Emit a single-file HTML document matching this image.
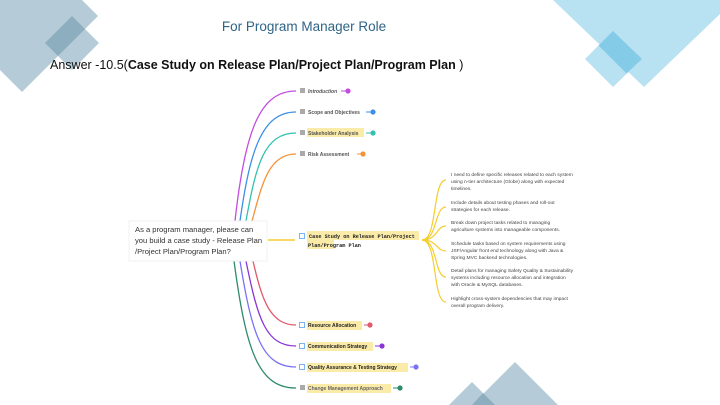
<!DOCTYPE html>
<html><head><meta charset="utf-8"><style>
body{margin:0;width:720px;height:405px;overflow:hidden;background:#fff;font-family:"Liberation Sans",sans-serif}
svg{display:block}
</style></head><body>
<svg width="720" height="405" viewBox="0 0 720 405" xmlns="http://www.w3.org/2000/svg">
<polygon points="-54,16 22,-60 98,16 22,92" fill="#b5cbd7"/>
<polygon points="45,43 72,16 99,43 72,70" fill="#b5cbd7"/>
<polygon points="45,43 72,16 85,29 58,56" fill="#8daebf"/>
<polygon points="553,0 720,0 720,14 644,87" fill="#b8e2f2"/>
<polygon points="585,59 613,31 642,59 613,87" fill="#b8e2f2"/>
<polygon points="598.5,45.5 613,31 642,59 626.5,73.5" fill="#84cbe7"/>
<polygon points="472,405 515,362 558,405" fill="#b5cbd7"/>
<polygon points="449,405 472,382 495,405" fill="#b5cbd7"/>
<polygon points="472,405 483,393 495,405" fill="#8daebf"/>
<text x="304" y="31" text-anchor="middle" font-size="13.5" fill="#2e6487">For Program Manager Role</text>
<text x="50" y="69" font-size="12.5" fill="#111">Answer -10.5(<tspan font-weight="bold">Case Study on Release Plan/Project Plan/Program Plan </tspan>)</text>
<g fill="none" stroke-width="1.3">
<path d="M235,221 C245,130 260,91 296,91" stroke="#c24ee0"/>
<path d="M240,221 C250,150 262,112 296,112" stroke="#3d8fe6"/>
<path d="M246,221 C256,165 264,133 296,133" stroke="#33c1b0"/>
<path d="M252,221 C262,185 268,154 296,154" stroke="#f4923b"/>
<path d="M253,261 C262,300 270,325 296,325" stroke="#e25a6a"/>
<path d="M246,261 C258,320 266,346 296,346" stroke="#8a35d8"/>
<path d="M240,261 C252,335 262,367 296,367" stroke="#7a72f4"/>
<path d="M234,261 C246,350 258,388 296,388" stroke="#2e8a6e"/>
<path d="M268,240 L295,240" stroke="#f5cd2e" stroke-width="1.6"/>
<g stroke="#f5cd2e" stroke-width="1.2">
<path d="M422,240 C438,240 432,180 446,180"/>
<path d="M422,240 C438,240 434,207 446,207"/>
<path d="M422,240 C438,240 436,226 446,226"/>
<path d="M422,240 C438,240 436,251 446,251"/>
<path d="M422,240 C438,240 434,277 446,277"/>
<path d="M422,240 C438,240 432,302 446,302"/>
</g>
</g>
<rect x="129" y="221" width="138" height="40" fill="#fff" stroke="#f0f0f0"/>
<g font-size="7.6" fill="#333">
<text x="135" y="232">As a program manager, please can</text>
<text x="135" y="243">you build a case study - Release Plan</text>
<text x="135" y="254">/Project Plan/Program Plan?</text>
</g>
<g font-size="5" font-weight="bold" fill="#555">
<rect x="300" y="88" width="5" height="5" fill="#aaa"/><text x="308" y="93" font-style="italic">Introduction</text>
<rect x="300" y="109" width="5" height="5" fill="#aaa"/><text x="308" y="114">Scope and Objectives</text>
<rect x="307" y="128" width="57" height="9" fill="#fbeba8"/>
<rect x="300" y="130" width="5" height="5" fill="#aaa"/><text x="308" y="135">Stakeholder Analysis</text>
<rect x="300" y="151" width="5" height="5" fill="#aaa"/><text x="308" y="156">Risk Assessment</text>
</g>
<g stroke-width="1">
<line x1="341" y1="91" x2="347" y2="91" stroke="#c24ee0"/><circle cx="348" cy="91" r="2.6" fill="#c24ee0"/>
<line x1="366" y1="112" x2="372" y2="112" stroke="#3d8fe6"/><circle cx="373" cy="112" r="2.6" fill="#3d8fe6"/>
<line x1="366" y1="133" x2="372" y2="133" stroke="#33c1b0"/><circle cx="373" cy="133" r="2.6" fill="#33c1b0"/>
<line x1="357" y1="154" x2="362" y2="154" stroke="#f4923b"/><circle cx="363" cy="154" r="2.6" fill="#f4923b"/>
<line x1="364" y1="325" x2="369" y2="325" stroke="#e25a6a"/><circle cx="370" cy="325" r="2.6" fill="#e25a6a"/>
<line x1="375" y1="346" x2="380" y2="346" stroke="#8a35d8"/><circle cx="382" cy="346" r="2.6" fill="#8a35d8"/>
<line x1="410" y1="367" x2="415" y2="367" stroke="#7a72f4"/><circle cx="416" cy="367" r="2.6" fill="#7a72f4"/>
<line x1="393" y1="388" x2="398" y2="388" stroke="#2e8a6e"/><circle cx="400" cy="388" r="2.6" fill="#2e8a6e"/>
</g>
<rect x="307" y="231" width="112" height="9" fill="#fbeba8"/>
<rect x="307" y="240" width="27" height="9" fill="#fbeba8"/>
<rect x="299.5" y="233.5" width="5" height="5" fill="#fff" stroke="#5aa2f0" stroke-width="0.8"/>
<g font-family="Liberation Mono,monospace" font-size="5.2" font-weight="bold" fill="#222">
<text x="309" y="238">Case Study on Release Plan/Project</text>
<text x="308" y="247">Plan/Program Plan</text>
</g>
<g font-size="5" font-weight="bold" fill="#222">
<rect x="307" y="321" width="55" height="9" fill="#fbeba8"/>
<rect x="299.5" y="322.5" width="5" height="5" fill="#fff" stroke="#5aa2f0" stroke-width="0.8"/><text x="308" y="327">Resource Allocation</text>
<rect x="307" y="342" width="66" height="9" fill="#fbeba8"/>
<rect x="299.5" y="343.5" width="5" height="5" fill="#fff" stroke="#5aa2f0" stroke-width="0.8"/><text x="308" y="348">Communication Strategy</text>
<rect x="307" y="363" width="101" height="9" fill="#fbeba8"/>
<rect x="299.5" y="364.5" width="5" height="5" fill="#fff" stroke="#5aa2f0" stroke-width="0.8"/><text x="308" y="369">Quality Assurance &amp; Testing Strategy</text>
<rect x="307" y="384" width="84" height="9" fill="#fbeba8"/>
<rect x="300" y="385" width="5" height="5" fill="#aaa"/><text x="308" y="390" fill="#666">Change Management Approach</text>
</g>
<g font-size="4.9" fill="#444">
<text x="451" y="176">I need  to define specific releases related to each system</text>
<text x="451" y="183">using n-tier architecture (Globe) along with expected</text>
<text x="451" y="190">timelines.</text>
<text x="451" y="204">Include details about testing phases and roll-out</text>
<text x="451" y="211">strategies for each release.</text>
<text x="451" y="224">Break down project tasks related to managing</text>
<text x="451" y="231">agriculture systems into manageable components.</text>
<text x="451" y="245">Schedule tasks based on system requirements using</text>
<text x="451" y="252">JSF/Angular front end technology along with Java &amp;</text>
<text x="451" y="259">Spring MVC backend technologies.</text>
<text x="451" y="272">Detail plans for managing Safety Quality &amp; Sustainability</text>
<text x="451" y="279">systems including resource allocation and integration</text>
<text x="451" y="286">with Oracle &amp; MySQL databases.</text>
<text x="451" y="300">Highlight cross-system dependencies that may impact</text>
<text x="451" y="307">overall program delivery.</text>
</g>
</svg>
</body></html>
